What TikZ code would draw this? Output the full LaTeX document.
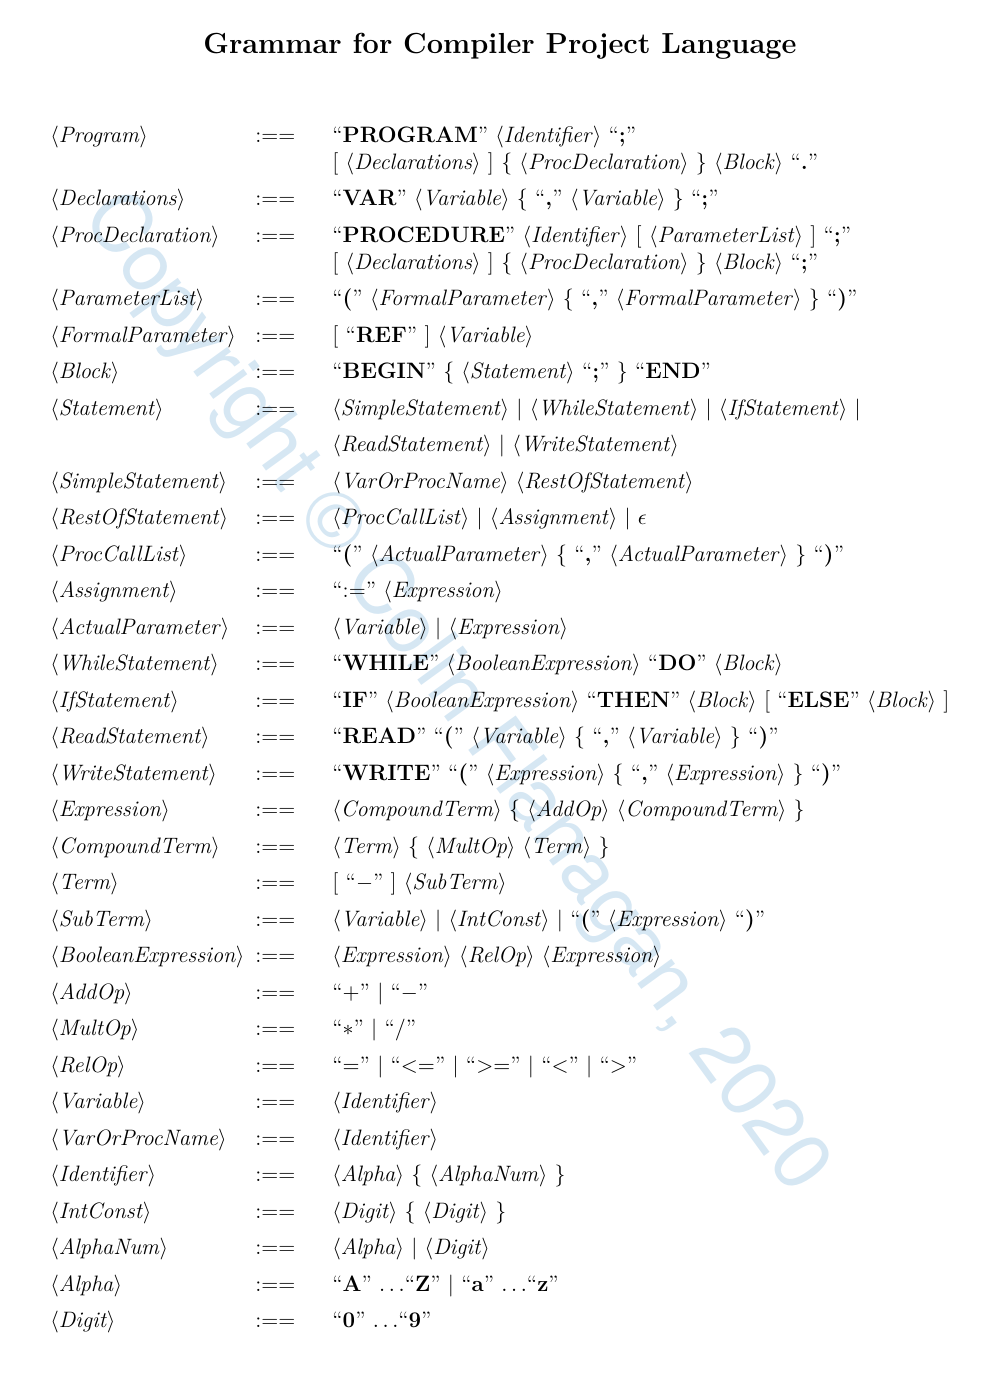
\documentclass[tikz,border=0pt]{standalone}
\usepackage{amsmath}
\usepackage{fontspec}
\newfontfamily\wmfont{TeX Gyre Heros}
\definecolor{wmblue}{RGB}{214,231,243}
\newcommand{\nterm}[1]{$\langle$\textit{#1}$\rangle$}
\newcommand{\term}[1]{``\textbf{#1}''}
\newcommand{\alt}{$\mid$}

\begin{document}
\begin{tikzpicture}[x=0.5pt,y=-0.5pt]
    \tikzstyle{every node}=[font=\fontsize{11.15}{13.6}\selectfont]
    \tikzstyle{lhs}=[anchor=mid west,inner sep=0pt]
    \tikzstyle{defsym}=[lhs]
    \tikzstyle{rhs}=[lhs]
    \tikzstyle{title}=[inner sep=0pt,font=\fontsize{14.5}{18}\selectfont\bfseries]
    \tikzstyle{watermark}=[inner sep=0pt,text=wmblue,rotate=-54,
        font=\fontsize{40.2}{44}\selectfont\wmfont]

    \useasboundingbox (0,0) rectangle (996,1378);

    % Watermark behind the grammar
    \node[watermark] (wm) at (454,694) {Copyright \copyright{} Colin Flanagan, 2020};

    \node[title] (head) at (500,46) {Grammar for Compiler Project Language};

    % Left hand sides and the ::= column
    \foreach \name / \y in {Program/138,Declarations/201,ProcDeclaration/238,
        ParameterList/301,FormalParameter/338,Block/374,Statement/411,
        SimpleStatement/484,RestOfStatement/520,ProcCallList/557,
        Assignment/593,ActualParameter/630,WhileStatement/666,
        IfStatement/703,ReadStatement/739,WriteStatement/776,
        Expression/812,CompoundTerm/849,Term/885,SubTerm/922,
        BooleanExpression/958,AddOp/995,MultOp/1031,RelOp/1068,
        Variable/1104,VarOrProcName/1141,Identifier/1177,IntConst/1214,
        AlphaNum/1250,Alpha/1287,Digit/1323}
    {
        \node[lhs] (L-\name) at (50,\y) {\nterm{\name}};
        \node[defsym] (D-\name) at (255,\y) {:==};
    }

    % Right hand sides
    \node[rhs] (R-Program) at (332,138) {\term{PROGRAM} \nterm{Identifier} \term{;}};
    \node[rhs] (R-Program2) at (332,165) {[ \nterm{Declarations} ] $\{$ \nterm{ProcDeclaration} $\}$ \nterm{Block} \term{.}};
    \node[rhs] (R-Declarations) at (332,201) {\term{VAR} \nterm{Variable} $\{$ \term{,} \nterm{Variable} $\}$ \term{;}};
    \node[rhs] (R-ProcDeclaration) at (332,238) {\term{PROCEDURE} \nterm{Identifier} [ \nterm{ParameterList} ] \term{;}};
    \node[rhs] (R-ProcDeclaration2) at (332,265) {[ \nterm{Declarations} ] $\{$ \nterm{ProcDeclaration} $\}$ \nterm{Block} \term{;}};
    \node[rhs] (R-ParameterList) at (332,301) {\term{(} \nterm{FormalParameter} $\{$ \term{,} \nterm{FormalParameter} $\}$ \term{)}};
    \node[rhs] (R-FormalParameter) at (332,338) {[ \term{REF} ] \nterm{Variable}};
    \node[rhs] (R-Block) at (332,374) {\term{BEGIN} $\{$ \nterm{Statement} \term{;} $\}$ \term{END}};
    \node[rhs] (R-Statement) at (332,411) {\nterm{SimpleStatement} \alt{} \nterm{WhileStatement} \alt{} \nterm{IfStatement} \alt};
    \node[rhs] (R-Statement2) at (332,447) {\nterm{ReadStatement} \alt{} \nterm{WriteStatement}};
    \node[rhs] (R-SimpleStatement) at (332,484) {\nterm{VarOrProcName} \nterm{RestOfStatement}};
    \node[rhs] (R-RestOfStatement) at (332,520) {\nterm{ProcCallList} \alt{} \nterm{Assignment} \alt{} $\epsilon$};
    \node[rhs] (R-ProcCallList) at (332,557) {\term{(} \nterm{ActualParameter} $\{$ \term{,} \nterm{ActualParameter} $\}$ \term{)}};
    \node[rhs] (R-Assignment) at (332,593) {``:='' \nterm{Expression}};
    \node[rhs] (R-ActualParameter) at (332,630) {\nterm{Variable} \alt{} \nterm{Expression}};
    \node[rhs] (R-WhileStatement) at (332,666) {\term{WHILE} \nterm{BooleanExpression} \term{DO} \nterm{Block}};
    \node[rhs] (R-IfStatement) at (332,703) {\term{IF} \nterm{BooleanExpression} \term{THEN} \nterm{Block} [ \term{ELSE} \nterm{Block} ]};
    \node[rhs] (R-ReadStatement) at (332,739) {\term{READ} \term{(} \nterm{Variable} $\{$ \term{,} \nterm{Variable} $\}$ \term{)}};
    \node[rhs] (R-WriteStatement) at (332,776) {\term{WRITE} \term{(} \nterm{Expression} $\{$ \term{,} \nterm{Expression} $\}$ \term{)}};
    \node[rhs] (R-Expression) at (332,812) {\nterm{CompoundTerm} $\{$ \nterm{AddOp} \nterm{CompoundTerm} $\}$};
    \node[rhs] (R-CompoundTerm) at (332,849) {\nterm{Term} $\{$ \nterm{MultOp} \nterm{Term} $\}$};
    \node[rhs] (R-Term) at (332,885) {[ ``$-$'' ] \nterm{SubTerm}};
    \node[rhs] (R-SubTerm) at (332,922) {\nterm{Variable} \alt{} \nterm{IntConst} \alt{} \term{(} \nterm{Expression} \term{)}};
    \node[rhs] (R-BooleanExpression) at (332,958) {\nterm{Expression} \nterm{RelOp} \nterm{Expression}};
    \node[rhs] (R-AddOp) at (332,995) {``$+$'' \alt{} ``$-$''};
    \node[rhs] (R-MultOp) at (332,1031) {``$*$'' \alt{} ``$/$''};
    \node[rhs] (R-RelOp) at (332,1068) {``$=$'' \alt{} ``$<=$'' \alt{} ``$>=$'' \alt{} ``$<$'' \alt{} ``$>$''};
    \node[rhs] (R-Variable) at (332,1104) {\nterm{Identifier}};
    \node[rhs] (R-VarOrProcName) at (332,1141) {\nterm{Identifier}};
    \node[rhs] (R-Identifier) at (332,1177) {\nterm{Alpha} $\{$ \nterm{AlphaNum} $\}$};
    \node[rhs] (R-IntConst) at (332,1214) {\nterm{Digit} $\{$ \nterm{Digit} $\}$};
    \node[rhs] (R-AlphaNum) at (332,1250) {\nterm{Alpha} \alt{} \nterm{Digit}};
    \node[rhs] (R-Alpha) at (332,1287) {\term{A} $\ldots$\term{Z} \alt{} \term{a} $\ldots$\term{z}};
    \node[rhs] (R-Digit) at (332,1323) {\term{0} $\ldots$\term{9}};
\end{tikzpicture}
\end{document}
